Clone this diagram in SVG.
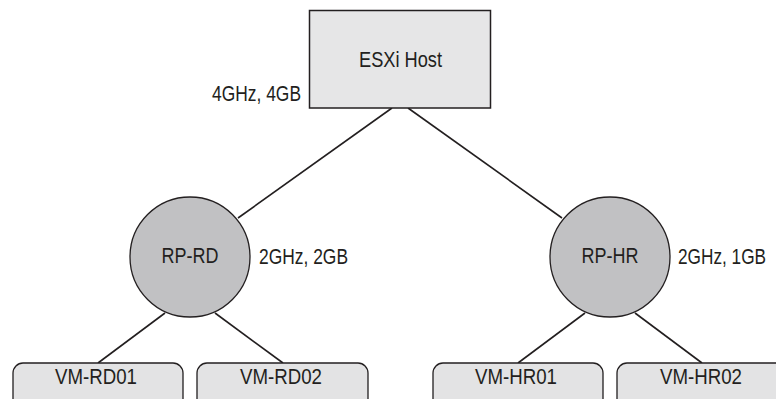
<svg xmlns="http://www.w3.org/2000/svg" width="776" height="399" viewBox="0 0 776 399">
<style>
.t{font-family:"Liberation Sans",Arial,sans-serif;font-size:22px;fill:#231f20}
.m{text-anchor:middle}
.box{fill:#e6e6e7;stroke:#231f20;stroke-width:1.5}
.rp{fill:#c1c1c3;stroke:#231f20;stroke-width:1.3}
.vm{fill:#e3e3e4;stroke:#231f20;stroke-width:1.3}
.ln{stroke:#231f20;stroke-width:1.6;fill:none}
</style>
<rect width="776" height="399" fill="#fff"/>
<g id="connectors">
<line class="ln" x1="392" y1="108" x2="238" y2="218"/>
<line class="ln" x1="408" y1="108" x2="562" y2="218"/>
<line class="ln" x1="165" y1="313" x2="98" y2="363"/>
<line class="ln" x1="215" y1="313" x2="283" y2="363"/>
<line class="ln" x1="585" y1="313" x2="518" y2="363"/>
<line class="ln" x1="635" y1="313" x2="702" y2="363"/>
</g>
<g id="esxi">
<rect class="box" x="309.5" y="10.5" width="181" height="97.5"/>
<text class="t m" x="400.5" y="67" textLength="83" lengthAdjust="spacingAndGlyphs">ESXi Host</text>
<text class="t" x="212" y="101" textLength="89" lengthAdjust="spacingAndGlyphs">4GHz, 4GB</text>
</g>
<g id="rp-rd">
<circle class="rp" cx="190" cy="257" r="60"/>
<text class="t m" x="190" y="263" textLength="57" lengthAdjust="spacingAndGlyphs">RP-RD</text>
<text class="t" x="259" y="264" textLength="89" lengthAdjust="spacingAndGlyphs">2GHz, 2GB</text>
</g>
<g id="rp-hr">
<circle class="rp" cx="610" cy="257" r="60"/>
<text class="t m" x="610" y="263" textLength="57" lengthAdjust="spacingAndGlyphs">RP-HR</text>
<text class="t" x="678" y="264" textLength="88" lengthAdjust="spacingAndGlyphs">2GHz, 1GB</text>
</g>
<g id="vm-rd01">
<rect class="vm" x="13" y="363" width="170" height="50" rx="10"/>
<text class="t m" x="96" y="384" textLength="82" lengthAdjust="spacingAndGlyphs">VM-RD01</text>
</g>
<g id="vm-rd02">
<rect class="vm" x="197" y="363" width="171" height="50" rx="10"/>
<text class="t m" x="281" y="384" textLength="82" lengthAdjust="spacingAndGlyphs">VM-RD02</text>
</g>
<g id="vm-hr01">
<rect class="vm" x="433" y="363" width="170" height="50" rx="10"/>
<text class="t m" x="516" y="384" textLength="82" lengthAdjust="spacingAndGlyphs">VM-HR01</text>
</g>
<g id="vm-hr02">
<rect class="vm" x="617" y="363" width="171" height="50" rx="10"/>
<text class="t m" x="701" y="384" textLength="82" lengthAdjust="spacingAndGlyphs">VM-HR02</text>
</g>
</svg>
